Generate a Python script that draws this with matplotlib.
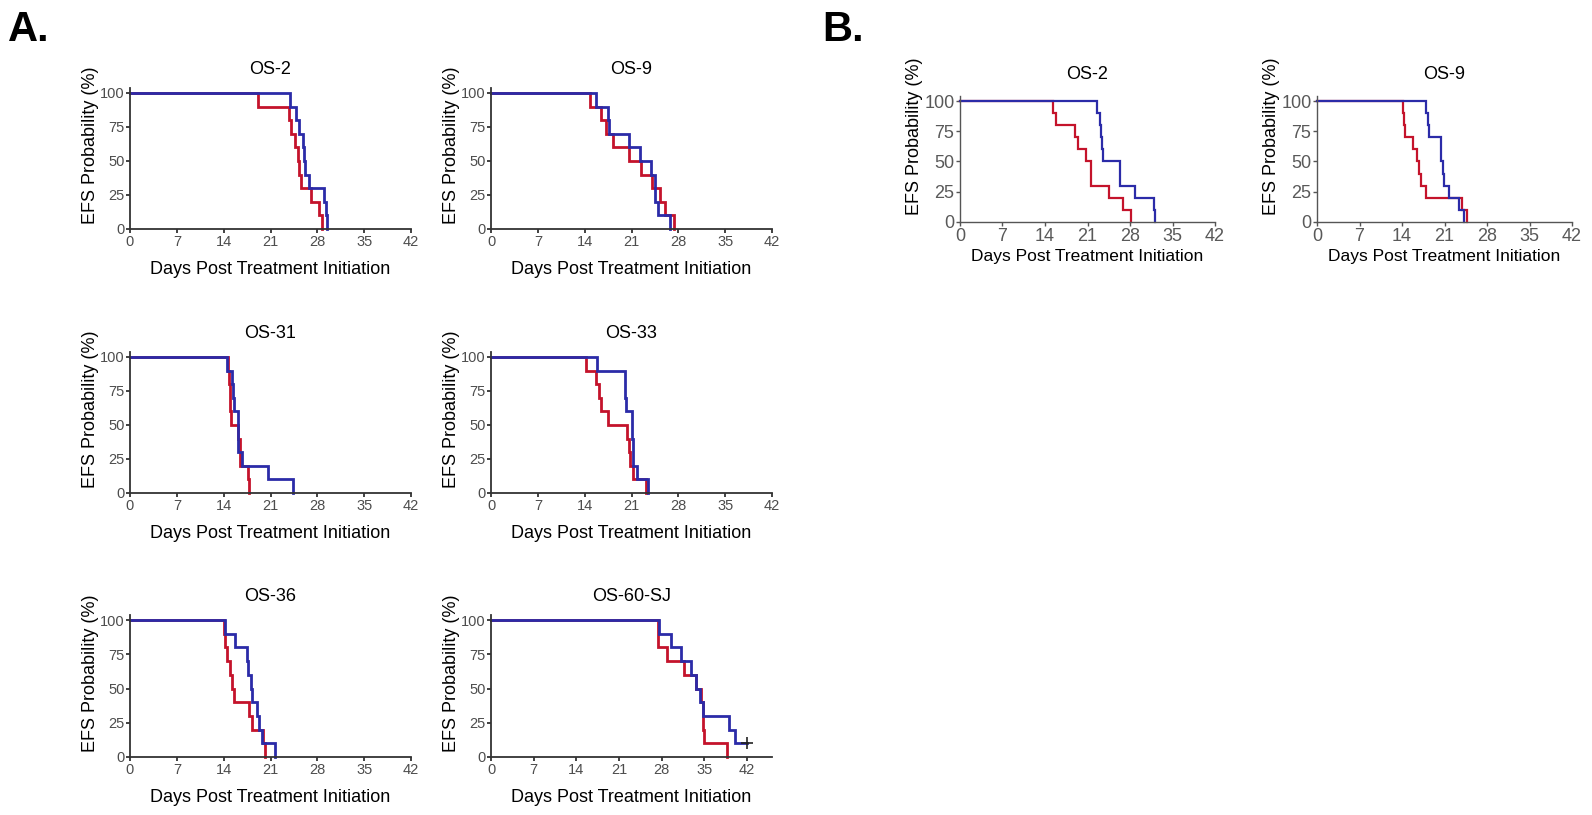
import matplotlib
matplotlib.use("Agg")
import matplotlib.pyplot as plt

plt.rcParams["font.family"] = ["Liberation Sans", "DejaVu Sans"]

# Kaplan-Meier curves (day of each drop, EFS % after it)
RED = "#c4132b"
BLUE = "#2b2ba8"

# Panel A
a_os2_red_t = [19.1, 23.8, 24.0, 24.6, 25.1, 25.2, 25.5, 27.1, 28.3, 28.7]
a_os2_red_s = [90, 80, 70, 60, 50, 40, 30, 20, 10, 0]
a_os2_blue_t = [23.85, 24.85, 25.2, 25.85, 26.0, 26.1, 26.7, 29.0, 29.3, 29.4]
a_os2_blue_s = [90, 80, 70, 60, 50, 40, 30, 20, 10, 0]

a_os9_red_t = [14.75, 16.5, 17.25, 18.3, 20.6, 22.4, 24.1, 25.2, 26.0, 27.4]
a_os9_red_s = [90, 80, 70, 60, 50, 40, 30, 20, 10, 0]
a_os9_blue_t = [15.75, 17.55, 17.6, 20.6, 22.3, 23.9, 24.5, 24.55, 24.9, 26.7]
a_os9_blue_s = [90, 80, 70, 60, 50, 40, 30, 20, 10, 0]

a_os31_red_t = [14.6, 14.8, 14.9, 15.0, 15.1, 16.2, 16.4, 16.5, 17.7, 17.8]
a_os31_red_s = [90, 80, 70, 60, 50, 40, 30, 20, 10, 0]
a_os31_blue_t = [14.5, 15.2, 15.4, 15.6, 16.1, 16.15, 16.2, 16.7, 20.7, 24.4]
a_os31_blue_s = [90, 80, 70, 60, 50, 40, 30, 20, 10, 0]

a_os33_red_t = [14.15, 15.75, 16.15, 16.5, 17.5, 20.35, 20.65, 20.85, 21.15, 23.1]
a_os33_red_s = [90, 80, 70, 60, 50, 40, 30, 20, 10, 0]
a_os33_blue_t = [15.85, 20.0, 20.1, 20.2, 21.05, 21.1, 21.15, 21.2, 21.75, 23.4]
a_os33_blue_s = [90, 80, 70, 60, 50, 40, 30, 20, 10, 0]

a_os36_red_t = [14.0, 14.2, 14.5, 15.0, 15.2, 15.6, 17.85, 18.2, 19.85, 20.2]
a_os36_red_s = [90, 80, 70, 60, 50, 40, 30, 20, 10, 0]
a_os36_blue_t = [14.2, 15.7, 17.5, 17.6, 18.1, 18.2, 19.0, 19.35, 19.7, 21.6]
a_os36_blue_s = [90, 80, 70, 60, 50, 40, 30, 20, 10, 0]

a_os60_red_t = [27.35, 27.4, 28.9, 31.6, 33.7, 34.4, 34.8, 34.85, 34.9, 38.7]
a_os60_red_s = [90, 80, 70, 60, 50, 40, 30, 20, 10, 0]
a_os60_blue_t = [27.5, 29.5, 31.1, 32.8, 33.7, 34.3, 34.8, 39.0, 40.1, 42.0]
a_os60_blue_s = [90, 80, 70, 60, 50, 40, 30, 20, 10, 10]
a_os60_censor = (42.0, 10)

# Panel B
b_os2_red_t = [15.35, 15.85, 18.95, 19.5, 20.8, 21.5, 21.6, 24.6, 26.8, 28.15]
b_os2_red_s = [90, 80, 70, 60, 50, 40, 30, 20, 10, 0]
b_os2_blue_t = [22.5, 23.1, 23.2, 23.35, 23.5, 26.35, 26.4, 28.8, 31.9, 32.1]
b_os2_blue_s = [90, 80, 70, 60, 50, 40, 30, 20, 10, 0]

b_os9_red_t = [14.2, 14.4, 14.45, 15.8, 16.5, 16.8, 17.1, 18.0, 23.8, 24.7]
b_os9_red_s = [90, 80, 70, 60, 50, 40, 30, 20, 10, 0]
b_os9_blue_t = [18.0, 18.3, 18.45, 20.35, 20.5, 20.7, 20.9, 21.7, 23.45, 24.15]
b_os9_blue_s = [90, 80, 70, 60, 50, 40, 30, 20, 10, 0]

W, H = 1592, 815
fig = plt.figure(figsize=(W / 100, H / 100), dpi=100)


def make_axes(x0, x1, y100, y0, xmax, style):
    # pixel box of the data region 0..xmax / 0..100, top extended a bit
    ytop = y100 - 0.04 * (y0 - y100)
    ax = fig.add_axes([x0 / W, 1 - y0 / H, (x1 - x0) / W, (y0 - ytop) / H])
    ax.set_xlim(0, xmax)
    ax.set_ylim(0, 104)
    ax.set_xticks([0, 7, 14, 21, 28, 35, 42])
    ax.set_yticks([0, 25, 50, 75, 100])
    for s in ["top", "right"]:
        ax.spines[s].set_visible(False)
    if style == "A":
        col, tcol, tsize, lw = "#333333", "#4d4d4d", 10.5, 1.3
    else:
        col, tcol, tsize, lw = "#555555", "#595959", 13, 1.0
    for s in ["left", "bottom"]:
        ax.spines[s].set_color(col)
        ax.spines[s].set_linewidth(lw)
    ax.tick_params(colors=col, labelcolor=tcol, labelsize=tsize,
                   length=3, width=lw, pad=1)
    if style == "A":
        ax.set_xlabel("Days Post Treatment Initiation", fontsize=13, labelpad=9)
        ax.set_ylabel("EFS Probability (%)", fontsize=13)
        ax.yaxis.set_label_coords(-0.11, 0.59)
    else:
        ax.set_xlabel("Days Post Treatment Initiation", fontsize=12.5, labelpad=3)
        ax.set_ylabel("EFS Probability (%)", fontsize=13)
        ax.yaxis.set_label_coords(-0.145, 0.68)
    return ax


def km(ax, t, s, color, lw):
    ax.step([0] + t, [100] + s, where="post", color=color, lw=lw,
            solid_joinstyle="miter", clip_on=False)


panels_a = [
    ("OS-2", 130, 411, 93, 229, 42, a_os2_red_t, a_os2_red_s, a_os2_blue_t, a_os2_blue_s),
    ("OS-9", 491, 772, 93, 229, 42, a_os9_red_t, a_os9_red_s, a_os9_blue_t, a_os9_blue_s),
    ("OS-31", 130, 411, 357, 493, 42, a_os31_red_t, a_os31_red_s, a_os31_blue_t, a_os31_blue_s),
    ("OS-33", 491, 772, 357, 493, 42, a_os33_red_t, a_os33_red_s, a_os33_blue_t, a_os33_blue_s),
    ("OS-36", 130, 411, 620, 757, 42, a_os36_red_t, a_os36_red_s, a_os36_blue_t, a_os36_blue_s),
    ("OS-60-SJ", 491, 772, 620, 757, 46.1, a_os60_red_t, a_os60_red_s, a_os60_blue_t, a_os60_blue_s),
]

for title, x0, x1, y100, y0, xmax, rt, rs, bt, bs in panels_a:
    ax = make_axes(x0, x1, y100, y0, xmax, "A")
    km(ax, rt, rs, RED, 2.0)
    km(ax, bt, bs, BLUE, 2.0)
    ax.set_title(title, fontsize=13, pad=10)
    if title == "OS-60-SJ":
        ax.plot(*a_os60_censor, marker="+", color="#222222", ms=9, mew=1.2)

panels_b = [
    ("OS-2", 960, 1215, 101, 222, b_os2_red_t, b_os2_red_s, b_os2_blue_t, b_os2_blue_s),
    ("OS-9", 1317, 1572, 101, 222, b_os9_red_t, b_os9_red_s, b_os9_blue_t, b_os9_blue_s),
]

for title, x0, x1, y100, y0, rt, rs, bt, bs in panels_b:
    ax = make_axes(x0, x1, y100, y0, 42, "B")
    km(ax, rt, rs, RED, 1.6)
    km(ax, bt, bs, BLUE, 1.6)
    ax.set_title(title, fontsize=13, pad=12)

fig.text(8 / W, 1 - 30 / H, "A.", fontsize=30, fontweight="bold", va="center")
fig.text(822 / W, 1 - 30 / H, "B.", fontsize=30, fontweight="bold", va="center")

fig.savefig("out.png", dpi=100)
